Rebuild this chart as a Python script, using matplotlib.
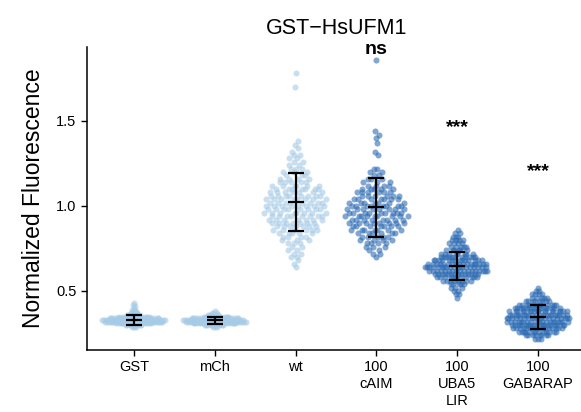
import numpy as np
import matplotlib
matplotlib.use('Agg')
import matplotlib.pyplot as plt

plt.rcParams['font.family'] = ['Liberation Sans', 'DejaVu Sans']

# Categories and tick labels
labels = ["GST", "mCh", "wt", "100\ncAIM", "100\nUBA5\nLIR", "100\nGABARAP"]

# Per-group values as (value, count) bins
gst_vals = [0.29, 0.30, 0.31, 0.32, 0.33, 0.34, 0.35, 0.36, 0.37, 0.38, 0.39, 0.40, 0.41, 0.42, 0.43]
gst_cnts = [3, 8, 18, 30, 32, 25, 14, 7, 4, 2, 2, 1, 1, 1, 1]

mch_vals = [0.29, 0.30, 0.31, 0.32, 0.33, 0.34, 0.35, 0.36, 0.37, 0.38]
mch_cnts = [3, 10, 20, 30, 30, 22, 12, 6, 3, 1]

wt_vals = [0.64, 0.66, 0.68, 0.70, 0.72, 0.74, 0.76, 0.78, 0.80, 0.82, 0.84, 0.86, 0.88,
           0.90, 0.92, 0.94, 0.96, 0.98, 1.00, 1.02, 1.04, 1.06, 1.08, 1.10, 1.12, 1.14,
           1.16, 1.18, 1.20, 1.22, 1.24, 1.26, 1.28, 1.30, 1.32, 1.34, 1.36, 1.38, 1.70, 1.78]
wt_cnts = [1, 1, 1, 2, 2, 2, 2, 3, 3, 4, 5, 6, 7,
           7, 7, 8, 8, 8, 8, 8, 8, 8, 7, 7, 6, 5,
           4, 3, 3, 3, 2, 2, 2, 2, 1, 1, 1, 1, 1, 1]

caim_vals = [0.70, 0.72, 0.74, 0.76, 0.78, 0.80, 0.82, 0.84, 0.86, 0.88, 0.90, 0.92, 0.94,
             0.96, 0.98, 1.00, 1.02, 1.04, 1.06, 1.08, 1.10, 1.12, 1.14, 1.16, 1.18, 1.20,
             1.22, 1.30, 1.32, 1.37, 1.40, 1.42, 1.44, 1.86]
caim_cnts = [1, 2, 2, 3, 4, 4, 5, 6, 7, 7, 8, 8, 9,
             9, 8, 8, 7, 7, 6, 6, 5, 4, 3, 3, 2, 2,
             2, 1, 1, 1, 1, 1, 1, 1]

uba5_vals = [0.46, 0.48, 0.50, 0.52, 0.54, 0.56, 0.58, 0.60, 0.62, 0.64, 0.66, 0.68,
             0.70, 0.72, 0.74, 0.76, 0.78, 0.80, 0.82, 0.84, 0.86]
uba5_cnts = [1, 2, 2, 3, 5, 8, 11, 14, 17, 19, 17, 14, 11, 8, 6, 5, 4, 4, 3, 2, 1]

gaba_vals = [0.22, 0.24, 0.26, 0.28, 0.30, 0.32, 0.34, 0.36, 0.38, 0.40, 0.42, 0.44,
             0.46, 0.48, 0.50, 0.52]
gaba_cnts = [3, 8, 13, 16, 18, 19, 20, 20, 18, 15, 12, 8, 5, 4, 2, 1]

# Mean and SD shown by the error bars
means = [0.33, 0.328, 1.025, 0.992, 0.647, 0.349]
sds = [0.03, 0.022, 0.17, 0.172, 0.083, 0.07]

# Significance labels
sig_labels = ["ns", "***", "***"]
sig_pos = [4, 5, 6]
sig_y = [1.92, 1.46, 1.20]

LIGHT = "#a6cbe6"
DARK = "#2c6bb3"
colors = [LIGHT, LIGHT, LIGHT, DARK, DARK, DARK]

groups = [
    np.repeat(gst_vals, gst_cnts),
    np.repeat(mch_vals, mch_cnts),
    np.repeat(wt_vals, wt_cnts),
    np.repeat(caim_vals, caim_cnts),
    np.repeat(uba5_vals, uba5_cnts),
    np.repeat(gaba_vals, gaba_cnts),
]


def van_der_corput(n, base=2):
    out = []
    for i in range(1, n + 1):
        v, denom, k = 0.0, 1.0, i
        while k > 0:
            denom *= base
            k, rem = divmod(k, base)
            v += rem / denom
        out.append(v)
    return np.array(out)


def quasirandom(y, width=0.4):
    # offsets like ggbeeswarm::geom_quasirandom
    n = len(y)
    sd = np.std(y, ddof=1)
    iqr = np.subtract(*np.percentile(y, [75, 25]))
    bw = 0.9 * min(sd, iqr / 1.34) * n ** -0.2
    grid = np.linspace(y.min() - 3 * bw, y.max() + 3 * bw, 512)
    dens = np.exp(-0.5 * ((grid[:, None] - y[None, :]) / bw) ** 2).sum(axis=1)
    d = np.interp(y, grid, dens) / dens.max()
    order = np.argsort(y, kind='stable')
    ranks = np.empty(n, dtype=int)
    ranks[order] = np.arange(n)
    vdc = van_der_corput(n)
    return (vdc[ranks] * 2 - 1) * d * width


fig = plt.figure(figsize=(5.81, 4.12), dpi=100)
ax = fig.add_axes([87 / 581, 62 / 412, 1 - 87 / 581, 303 / 412])

for i, y in enumerate(groups):
    x = i + 1 + quasirandom(y)
    ax.scatter(x, y, s=19, color=colors[i], alpha=0.6, linewidths=0, zorder=2)

xs = np.arange(1, len(labels) + 1)
ax.errorbar(xs, means, yerr=sds, fmt='none', ecolor='black', elinewidth=1.6,
            capsize=5.8, capthick=1.6, zorder=3)
ax.hlines(means, xs - 0.1, xs + 0.1, colors='black', linewidth=1.6, zorder=3)

for lab, p, yy in zip(sig_labels, sig_pos, sig_y):
    ax.text(p, yy, lab, ha='center', va='center', fontsize=14 if lab == "ns" else 14,
            fontweight='bold')

ax.set_xlim(0.418, 6.532)
ax.set_ylim(0.153, 1.935)
ax.set_xticks(xs)
ax.set_xticklabels(labels, fontsize=10.5, linespacing=1.25)
ax.set_yticks([0.5, 1.0, 1.5])
ax.set_yticklabels(["0.5", "1.0", "1.5"], fontsize=10.5)
ax.tick_params(direction='out', length=4, width=1, colors='black')
ax.spines['top'].set_visible(False)
ax.spines['right'].set_visible(False)
ax.spines['left'].set_linewidth(1.1)
ax.spines['bottom'].set_linewidth(1.1)
ax.set_ylabel("Normalized Fluorescence", fontsize=16.5, labelpad=8)
fig.text((87 + 586) / 2 / 581, 1 - 28 / 412, "GST\u2212HsUFM1", ha='center', va='center',
         fontsize=15.5)

fig.savefig("out.png", dpi=100)
